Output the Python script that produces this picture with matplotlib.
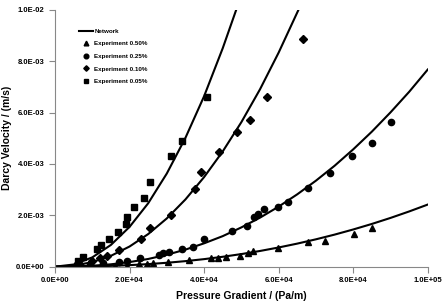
import matplotlib
matplotlib.use("Agg")
import matplotlib.pyplot as plt
from matplotlib.ticker import FormatStrFormatter

plt.rcParams['font.family'] = ['Liberation Sans', 'DejaVu Sans']
plt.rcParams['font.weight'] = 'bold'

# experiment data, pressure gradient (Pa/m) and darcy velocity (m/s)
g_050 = [13.0e3, 16.1e3, 19.2e3, 22.6e3, 24.6e3, 26.4e3, 30.4e3, 36.0e3, 41.8e3, 43.8e3,
         46.0e3, 49.6e3, 51.7e3, 53.0e3, 59.7e3, 67.8e3, 72.4e3, 80.3e3, 85.1e3]
v_050 = [0.09e-3, 0.03e-3, 0.03e-3, 0.09e-3, 0.12e-3, 0.13e-3, 0.19e-3, 0.26e-3, 0.33e-3, 0.33e-3,
         0.36e-3, 0.42e-3, 0.54e-3, 0.61e-3, 0.72e-3, 0.95e-3, 1.01e-3, 1.27e-3, 1.49e-3]

g_025 = [6.7e3, 9.4e3, 13.0e3, 17.3e3, 19.2e3, 22.8e3, 28.0e3, 29.0e3, 30.7e3, 34.0e3,
         36.9e3, 40.0e3, 47.6e3, 51.4e3, 53.5e3, 54.4e3, 56.1e3, 59.7e3, 62.6e3, 67.8e3,
         73.8e3, 79.8e3, 85.1e3, 90.1e3]
v_025 = [0.07e-3, 0.09e-3, 0.13e-3, 0.19e-3, 0.22e-3, 0.33e-3, 0.46e-3, 0.52e-3, 0.58e-3, 0.68e-3,
         0.78e-3, 1.07e-3, 1.39e-3, 1.60e-3, 1.95e-3, 2.04e-3, 2.23e-3, 2.34e-3, 2.53e-3, 3.07e-3,
         3.63e-3, 4.31e-3, 4.80e-3, 5.62e-3]

g_010 = [6.1e3, 9.8e3, 12.1e3, 13.9e3, 17.2e3, 23.0e3, 25.5e3, 31.0e3, 37.5e3, 39.3e3,
         44.0e3, 48.9e3, 52.3e3, 56.8e3, 66.4e3]
v_010 = [0.13e-3, 0.23e-3, 0.33e-3, 0.42e-3, 0.65e-3, 1.07e-3, 1.52e-3, 2.01e-3, 3.01e-3, 3.70e-3,
         4.47e-3, 5.23e-3, 5.71e-3, 6.59e-3, 8.85e-3]

g_005 = [6.3e3, 7.6e3, 11.2e3, 12.4e3, 14.6e3, 16.9e3, 19.0e3, 19.3e3, 21.2e3, 23.8e3,
         25.4e3, 31.1e3, 34.2e3, 40.9e3]
v_005 = [0.23e-3, 0.37e-3, 0.69e-3, 0.84e-3, 1.07e-3, 1.36e-3, 1.66e-3, 1.95e-3, 2.31e-3, 2.66e-3,
         3.30e-3, 4.31e-3, 4.90e-3, 6.59e-3]

# network model curves
ng_050 = [0, 5e3, 10e3, 15e3, 20e3, 25e3, 30e3, 35e3, 40e3, 45e3, 50e3, 55e3, 60e3, 65e3,
          70e3, 75e3, 80e3, 85e3, 90e3, 95e3, 100e3]
nv_050 = [0, 0.003e-3, 0.012e-3, 0.031e-3, 0.060e-3, 0.100e-3, 0.152e-3, 0.216e-3, 0.294e-3,
          0.386e-3, 0.491e-3, 0.612e-3, 0.748e-3, 0.899e-3, 1.066e-3, 1.249e-3, 1.449e-3,
          1.665e-3, 1.899e-3, 2.151e-3, 2.42e-3]

ng_025 = [0, 5e3, 10e3, 15e3, 20e3, 25e3, 30e3, 35e3, 40e3, 45e3, 50e3, 55e3, 60e3, 65e3,
          70e3, 75e3, 80e3, 85e3, 90e3, 95e3, 100e3]
nv_025 = [0, 0.007e-3, 0.036e-3, 0.092e-3, 0.18e-3, 0.30e-3, 0.465e-3, 0.665e-3, 0.91e-3,
          1.19e-3, 1.53e-3, 1.91e-3, 2.34e-3, 2.82e-3, 3.35e-3, 3.93e-3, 4.57e-3, 5.26e-3,
          6.01e-3, 6.81e-3, 7.68e-3]

ng_010 = [0, 5e3, 10e3, 15e3, 20e3, 25e3, 30e3, 35e3, 40e3, 45e3, 50e3, 55e3, 60e3, 65.3e3]
nv_010 = [0, 0.040e-3, 0.177e-3, 0.423e-3, 0.785e-3, 1.27e-3, 1.88e-3, 2.62e-3, 3.49e-3,
          4.49e-3, 5.63e-3, 6.91e-3, 8.34e-3, 10.0e-3]

ng_005 = [0, 5e3, 10e3, 15e3, 20e3, 25e3, 30e3, 35e3, 40e3, 45e3, 48.6e3]
nv_005 = [0, 0.084e-3, 0.362e-3, 0.847e-3, 1.55e-3, 2.47e-3, 3.63e-3, 5.02e-3, 6.64e-3,
          8.51e-3, 10.0e-3]

fig = plt.figure(figsize=(4.47, 3.06), dpi=100)
ax = fig.add_axes([0.123, 0.1285, 0.834, 0.839])

lw = 1.5
ax.plot(ng_050, nv_050, color='black', lw=lw, label='Network')
ax.plot(ng_025, nv_025, color='black', lw=lw)
ax.plot(ng_010, nv_010, color='black', lw=lw)
ax.plot(ng_005, nv_005, color='black', lw=lw)

ms = 4.5
ax.plot(g_050, v_050, '^', color='black', ms=ms, label='Experiment 0.50%')
ax.plot(g_025, v_025, 'o', color='black', ms=ms, label='Experiment 0.25%')
ax.plot(g_010, v_010, 'D', color='black', ms=ms - 0.8, label='Experiment 0.10%')
ax.plot(g_005, v_005, 's', color='black', ms=ms, label='Experiment 0.05%')

ax.set_xlim(0, 1e5)
ax.set_ylim(0, 1e-2)
ax.set_xticks([0, 2e4, 4e4, 6e4, 8e4, 1e5])
ax.set_yticks([0, 2e-3, 4e-3, 6e-3, 8e-3, 1e-2])
ax.xaxis.set_major_formatter(FormatStrFormatter('%.1E'))
ax.yaxis.set_major_formatter(FormatStrFormatter('%.1E'))
ax.tick_params(labelsize=5.5, length=4, width=0.8, color='#888888')

for s in ['top', 'right']:
    ax.spines[s].set_visible(False)
for s in ['left', 'bottom']:
    ax.spines[s].set_color('#888888')
    ax.spines[s].set_linewidth(0.8)

ax.set_xlabel('Pressure Gradient / (Pa/m)', fontsize=7.5, fontweight='bold', labelpad=5)
ax.set_ylabel('Darcy Velocity / (m/s)', fontsize=7.5, fontweight='bold', labelpad=3)

ax.legend(loc='upper left', bbox_to_anchor=(0.055, 0.94), frameon=False, fontsize=4.5,
          handlelength=2.3, handletextpad=0.2, labelspacing=1.15, borderpad=0, markerscale=0.75)

plt.savefig('out.png', dpi=100)
